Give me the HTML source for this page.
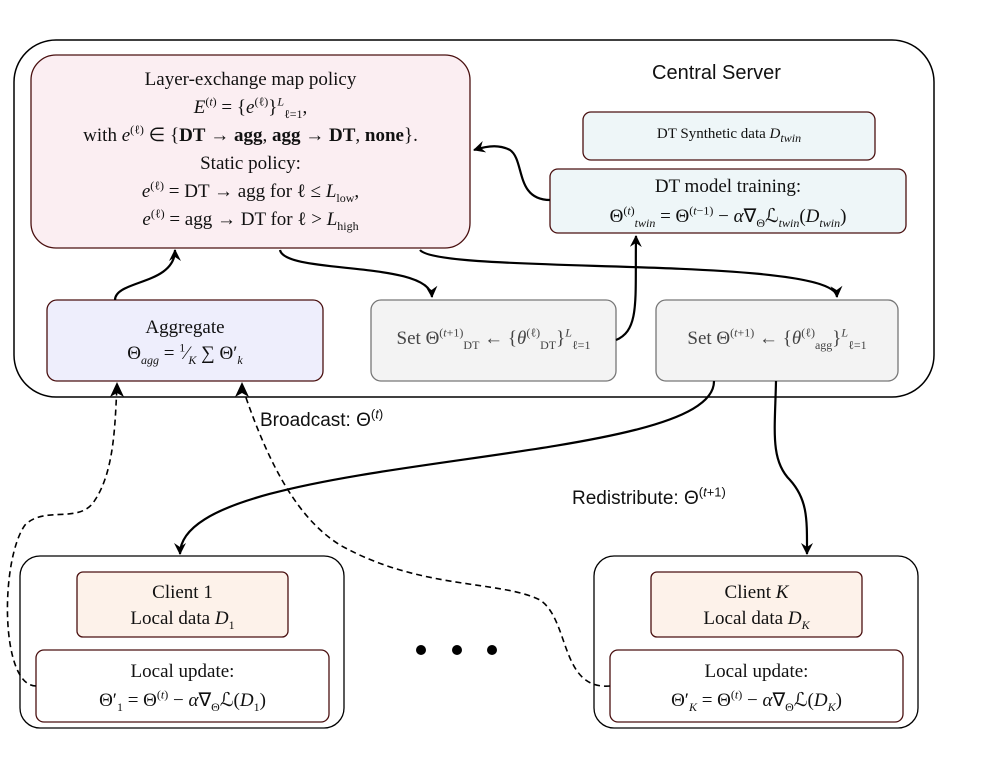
<!DOCTYPE html>
<html><head><meta charset="utf-8"><style>
body{margin:0;background:#fff;}
#w{position:relative;width:996px;height:757px;overflow:hidden;font-family:"Liberation Serif",serif;color:#111;}
.t{position:absolute;text-align:center;line-height:1.2;font-size:19px;white-space:nowrap}
i{font-style:italic}
sup,sub{font-size:12px;line-height:0}
.s{font-family:"Liberation Sans",sans-serif;font-size:19px;position:absolute}
</style></head><body><div id="w">
<svg width="996" height="757" style="position:absolute;left:0;top:0">
<defs><marker id="a" markerWidth="14" markerHeight="14" refX="11" refY="6" orient="auto" markerUnits="userSpaceOnUse"><path d="M0,0 L12,6 L0,12 L4,6z" fill="#000"/></marker></defs>
<rect x="14" y="40" width="920" height="357" rx="42" fill="none" stroke="#000" stroke-width="1.5"/>
<rect x="31" y="55" width="439" height="193" rx="25" fill="#fbeef2" stroke="#4a1010" stroke-width="1.3"/>
<rect x="583" y="112" width="292" height="48" rx="8" fill="#eef6f8" stroke="#4a1010" stroke-width="1.3"/>
<rect x="550" y="169" width="356" height="64" rx="8" fill="#eef6f8" stroke="#4a1010" stroke-width="1.3"/>
<rect x="47" y="300" width="276" height="81" rx="10" fill="#eeeefc" stroke="#4a1010" stroke-width="1.3"/>
<rect x="371" y="300" width="245" height="81" rx="10" fill="#f3f3f3" stroke="#777" stroke-width="1.3"/>
<rect x="656" y="300" width="242" height="81" rx="10" fill="#f3f3f3" stroke="#777" stroke-width="1.3"/>
<rect x="20" y="556" width="324" height="172" rx="20" fill="none" stroke="#000" stroke-width="1.3"/>
<rect x="77" y="572" width="211" height="65" rx="6" fill="#fdf2ea" stroke="#4a1010" stroke-width="1.3"/>
<rect x="36" y="650" width="293" height="72" rx="8" fill="#fff" stroke="#4a1010" stroke-width="1.3"/>
<rect x="594" y="556" width="324" height="172" rx="20" fill="none" stroke="#000" stroke-width="1.3"/>
<rect x="651" y="572" width="211" height="65" rx="6" fill="#fdf2ea" stroke="#4a1010" stroke-width="1.3"/>
<rect x="610" y="650" width="293" height="72" rx="8" fill="#fff" stroke="#4a1010" stroke-width="1.3"/>
<g fill="none" stroke="#000" stroke-width="2.2">
<path d="M115,300 C115,280 175,285 175,250" marker-end="url(#a)"/>
<path d="M280,250 C285,275 430,260 432,297" marker-end="url(#a)"/>
<path d="M420,250 C440,275 835,255 837,297" marker-end="url(#a)"/>
<path d="M616,340 C640,330 635,300 636,236" marker-end="url(#a)"/>
<path d="M550,200 C515,200 525,160 510,150 C500,145 490,145 474,150" marker-end="url(#a)"/>
<path d="M714,381 C715,470 180,450 180,554" marker-end="url(#a)"/>
<path d="M776,381 C775,430 770,460 790,480 C808,500 807,520 807,554" marker-end="url(#a)"/>
</g>
<g fill="none" stroke="#000" stroke-width="1.6" stroke-dasharray="6,4">
<path d="M36,686 C0,686 0,560 25,525 C45,505 80,525 95,500 C115,470 115,420 117,386"/>
<path d="M610,686 C560,690 570,620 540,600 C500,580 420,590 340,545 C300,520 270,470 242,386"/>
</g>
<path d="M117,382 L110,397 L117,393 L124,397z" fill="#000"/>
<path d="M242,382 L235,397 L242,393 L249,397z" fill="#000"/>
<circle cx="421" cy="650" r="5"/><circle cx="457" cy="650" r="5"/><circle cx="492" cy="650" r="5"/>
</svg>
<div class="s" style="left:652px;top:62px;font-size:20px">Central Server</div>
<div class="t" style="left:31px;top:66px;width:439px;line-height:28px;font-size:19px">Layer-exchange map policy<br><i>E</i><sup>(<i>t</i>)</sup> = {<i>e</i><sup>(ℓ)</sup>}<sup><i>L</i></sup><sub>ℓ=1</sub>,<br>with <i>e</i><sup>(ℓ)</sup> ∈ {<b>DT</b> → <b>agg</b>, <b>agg</b> → <b>DT</b>, <b>none</b>}.<br>Static policy:<br><i>e</i><sup>(ℓ)</sup> = DT → agg for ℓ ≤ <i>L</i><sub>low</sub>,<br><i>e</i><sup>(ℓ)</sup> = agg → DT for ℓ &gt; <i>L</i><sub>high</sub></div>
<div class="t" style="left:583px;top:125px;width:292px;font-size:15px">DT Synthetic data <i>D<sub>twin</sub></i></div>
<div class="t" style="left:550px;top:172px;width:356px;line-height:30px">DT model training:<br>Θ<sup>(<i>t</i>)</sup><sub><i>twin</i></sub> = Θ<sup>(<i>t</i>−1)</sup> − <i>α</i>∇<sub>Θ</sub>ℒ<sub><i>twin</i></sub>(<i>D<sub>twin</sub></i>)</div>
<div class="t" style="left:47px;top:315px;width:276px;line-height:26px">Aggregate<br>Θ<sub><i>agg</i></sub> = <sup>1</sup>⁄<sub><i>K</i></sub> ∑ Θ′<sub><i>k</i></sub></div>
<div class="t" style="left:371px;top:328px;width:245px;color:#444">Set Θ<sup>(<i>t</i>+1)</sup><sub>DT</sub> ← {<i>θ</i><sup>(ℓ)</sup><sub>DT</sub>}<sup><i>L</i></sup><sub>ℓ=1</sub></div>
<div class="t" style="left:656px;top:328px;width:242px;color:#444">Set Θ<sup>(<i>t</i>+1)</sup> ← {<i>θ</i><sup>(ℓ)</sup><sub>agg</sub>}<sup><i>L</i></sup><sub>ℓ=1</sub></div>
<div class="s" style="left:260px;top:410px">Broadcast: Θ<sup style="font-size:13px">(<i>t</i>)</sup></div>
<div class="s" style="left:572px;top:488px">Redistribute: Θ<sup style="font-size:13px">(<i>t</i>+1)</sup></div>
<div class="t" style="left:77px;top:580px;width:211px;line-height:26px">Client 1<br>Local data <i>D</i><sub>1</sub></div>
<div class="t" style="left:36px;top:657px;width:293px;line-height:29px">Local update:<br>Θ′<sub>1</sub> = Θ<sup>(<i>t</i>)</sup> − <i>α</i>∇<sub>Θ</sub>ℒ(<i>D</i><sub>1</sub>)</div>
<div class="t" style="left:651px;top:580px;width:211px;line-height:26px">Client <i>K</i><br>Local data <i>D<sub>K</sub></i></div>
<div class="t" style="left:610px;top:657px;width:293px;line-height:29px">Local update:<br>Θ′<sub><i>K</i></sub> = Θ<sup>(<i>t</i>)</sup> − <i>α</i>∇<sub>Θ</sub>ℒ(<i>D<sub>K</sub></i>)</div>
</div></body></html>
